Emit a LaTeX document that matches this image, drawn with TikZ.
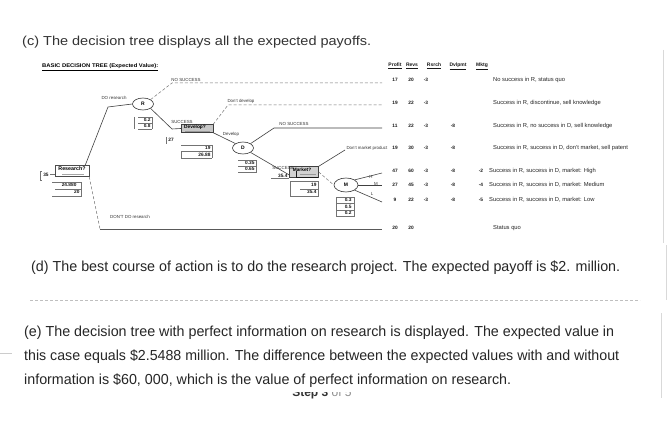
\documentclass[tikz,border=0pt]{standalone}
\usepackage{fontspec}
\setmainfont{Liberation Sans}
\usepackage{graphicx}
\usetikzlibrary{shapes.geometric}
\newcommand{\fitw}[2]{\resizebox{#1}{\height}{#2}}
\begin{document}
\begin{tikzpicture}[x=1pt,y=-1pt,
  txt/.style={anchor=west, inner sep=0pt, text=black!85},
  tl/.style={font=\fontsize{4.4}{5}\selectfont, inner sep=0.3pt, text=black!80},
  tv/.style={font=\fontsize{4.8}{5}\selectfont\bfseries, inner sep=0.3pt, text=black!90},
  th/.style={font=\fontsize{5}{6}\selectfont\bfseries, inner sep=0.3pt, text=black!90},
  tdesc/.style={font=\fontsize{5.8}{6}\selectfont, anchor=west, inner sep=0pt, text=black!85},
  chance/.style={ellipse, draw=black!80, line width=0.6pt, minimum width=21pt, minimum height=12pt, inner sep=0pt, font=\fontsize{5}{6}\selectfont\bfseries},
  decbox/.style={draw=black!75, fill=black!22, minimum width=32pt, minimum height=8pt, inner sep=0pt, font=\fontsize{4.8}{5}\selectfont\bfseries},
  br/.style={line width=0.6pt, draw=black!75},
  br2/.style={line width=0.5pt, draw=black!55, densely dashed},
  cell/.style={draw=black!55, line width=0.35pt},
  rule/.style={draw=black!15, line width=0.8pt}
]
\useasboundingbox (0,0) rectangle (670,433);
\fill[white] (0,0) rectangle (670,433);

% page texts
\node[txt, font=\fontsize{13}{15}\selectfont, text=black!80] (tc) at (22,42) {\fitw{349pt}{(c) The decision tree displays all the expected payoffs.}};
\node[txt, font=\fontsize{14.5}{16}\selectfont] (td) at (31,268) {\fitw{589pt}{(d) The best course of action is to do the research project. The expected payoff is \$2. million.}};
\draw[black!25, dash pattern=on 3pt off 2pt, line width=0.6pt] (30,300) -- (640,300);
\node[txt, font=\fontsize{14.5}{16}\selectfont] (te1) at (24,333) {\fitw{590pt}{(e) The decision tree with perfect information on research is displayed. The expected value in}};
\node[txt, font=\fontsize{14.5}{16}\selectfont] (te2) at (24,357) {\fitw{595pt}{this case equals \$2.5488 million. The difference between the expected values with and without}};
\node[txt, font=\fontsize{14.5}{16}\selectfont] (te3) at (24,381) {\fitw{487pt}{information is \$60, 000, which is the value of perfect information on research.}};
\begin{scope}
\clip (270,392) rectangle (380,402);
\node[anchor=base, inner sep=0, font=\fontsize{12}{14}\selectfont] (step) at (322,396.5) {\textbf{\color{black!80}Step 3} \color{black!45}of 5};
\end{scope}
\draw[rule] (663,50) -- (663,243);
\draw[rule] (666,245) -- (666,300);
\draw[rule] (661,313) -- (661,398);
\draw[black!20, line width=0.6pt] (0,353) -- (12,353);

% tree title
\node[anchor=west, inner sep=0, font=\fontsize{5.3}{6}\selectfont\bfseries] (title) at (42,67) {\fitw{116pt}{\underline{BASIC DECISION TREE (Expected Value):}}};

% nodes
\node[chance] (R) at (143,104) {R};
\node[chance] (D) at (243,148) {D};
\node[chance, minimum width=24pt, minimum height=14pt] (M) at (346,185) {M};
\node[draw=black!70, fill=white, minimum width=34pt, minimum height=11pt, inner sep=0] (res) at (72,171) {};
\node[font=\fontsize{5.3}{5}\selectfont\bfseries, inner sep=0] (restx) at (72,168.5) {Research?};
\draw[black!35, line width=0.4pt] (62,174.5) -- (84,174.5);
\node[decbox] (dev) at (197,128.5) {};
\node[font=\fontsize{4.8}{5}\selectfont\bfseries, inner sep=0] (devtx) at (195,127) {Develop?};
\draw[black!40, line width=0.4pt] (185,131) -- (210,131);
\node[draw=black!75, fill=black!18, minimum width=29pt, minimum height=11pt, inner sep=0] (mkt) at (304,172) {};
\node[font=\fontsize{4.8}{5}\selectfont\bfseries, inner sep=0] (mkttx) at (302,169.5) {Market?};
\draw[black!90, line width=0.8pt] (296,171.5) -- (296,177.5) -- (318,177.5);
\draw[black!40, line width=0.4pt] (300,174.5) -- (316,174.5);

% connectors
\coordinate (b1) at (108,107);
\draw[br] ([xshift=-4pt]res.north east) -- (b1) -- (R.west);
\coordinate (n1) at (172,83);
\coordinate (e1) at (382,83);
\draw[br2] (R.north east) -- (n1) -- (e1);
\coordinate (b2) at (172,129);
\draw[br] (R.south east) -- (b2) -- (dev.west);
\coordinate (b3) at (228,105);
\coordinate (e2) at (382,105);
\draw[br2] (dev.north east) -- (b3) -- (e2);
\draw[br] (dev.south east) -- (D.north west);
\coordinate (b4) at (274,128);
\coordinate (e3) at (382,128);
\draw[br] (D.north east) -- (b4) -- (e3);
\draw[br] (D.south east) -- ([yshift=-3pt]mkt.west);
\coordinate (b5) at (345,150);
\draw[br] (mkt.north east) -- (b5);
\draw[br2] (mkt.east) -- (M.west);
\coordinate (mh) at (382,173);
\coordinate (mm) at (382,185);
\coordinate (ml) at (382,202);
\draw[br] (M.north east) -- (mh);
\draw[br] (M.east) -- (mm);
\draw[br] (M.south east) -- (ml);
\coordinate (b6) at (100,229);
\coordinate (e4) at (382,229);
\draw[br2] (res.south east) -- (b6);
\draw[br, line width=0.8pt, draw=black!65] (b6) -- (e4);

% branch labels
\node[tl] (l1) at (114,98) {DO research};
\node[tl] (l2) at (186,80) {NO SUCCESS};
\node[tl] (l3) at (182,122) {SUCCESS};
\node[tl] (l4) at (241,101) {Don't develop};
\node[tl] (l5) at (231,134) {Develop};
\node[tl] (l6) at (294,124) {NO SUCCESS};
\node[tl] (l7) at (283,168) {SUCCESS};
\node[tl, anchor=west] (l8) at (346,148) {Don't market product};
\node[tl] (l9) at (130,217) {DON'T DO research};
\node[tl] (lh) at (371,177) {H};
\node[tl] (lm) at (376,183.5) {M};
\node[tl] (ll) at (372,194) {L};

% values
\node[tv] (v35) at (46,175) {35};
\draw[cell] (42,171) -- (40,171) -- (40,180) -- (42,180);
\draw[cell] (50,174) -- (55,174);
\node[tv, anchor=east] (v2488) at (77,185) {24.880};
\node[tv, anchor=east] (v20) at (80,192) {20};
\draw[cell] (52,182) -- (81,182) -- (81,196) -- (52,196);
\draw[cell] (55,189) -- (81,189);

\node[tv, anchor=east] (p1) at (151,120) {0.2};
\node[tv, anchor=east] (p2) at (151,126) {0.8};
\draw[cell, line width=0.7pt] (134,117) -- (134,129);
\draw[cell] (138,117) -- (152,117) -- (152,129);
\draw[cell] (138,123) -- (152,123);
\draw[cell] (138,129) -- (152,129);

\node[tv] (v27) at (171,140) {27};
\draw[cell, line width=0.7pt] (166,137) -- (166,144);

\node[tv, anchor=east] (v19a) at (211,148) {19};
\node[tv, anchor=east] (v2688) at (211,155) {26.88};
\draw[cell] (181,145) -- (212,145) -- (212,158);
\draw[cell] (181,151.5) -- (212,151.5);
\draw[cell, line width=0.7pt] (181,158) -- (212,158);
\draw[cell] (181,151.5) -- (181,158);

\node[tv, anchor=east] (p3) at (255,163) {0.35};
\node[tv, anchor=east] (p4) at (255,169) {0.65};
\draw[cell] (238,160) -- (256,160) -- (256,172) -- (238,172);
\draw[cell] (238,166) -- (256,166);

\node[tv, anchor=east] (v354a) at (288,175.5) {35.4};
\draw[cell] (271,178.5) -- (289,178.5);

\node[tv, anchor=east] (v19b) at (317,185) {19};
\node[tv, anchor=east] (v354b) at (317,192) {35.4};
\draw[cell] (290,181.5) -- (318,181.5) -- (318,196) -- (290,196) -- (290,181.5);
\draw[cell] (300,188.7) -- (318,188.7);

\node[tv, anchor=east] (p5) at (352,200) {0.3};
\node[tv, anchor=east] (p6) at (352,206.5) {0.5};
\node[tv, anchor=east] (p7) at (352,213) {0.2};
\draw[cell] (336,197) rectangle (354,216.5);
\draw[cell] (336,203.5) -- (354,203.5);
\draw[cell] (336,210) -- (354,210);

% table header
\node[th] (h1) at (395,66) {\underline{Profit}};
\node[th] (h2) at (412,66) {\underline{Revs}};
\node[th] (h3) at (434,66) {\underline{Rsrch}};
\node[th] (h4) at (458,66) {\underline{Dvlpmt}};
\node[th] (h5) at (482,66) {\underline{Mktg}};

% rows
\foreach \y/\a/\b/\c/\d/\e [count=\i] in {
  80/17/20/-3//,
  103/19/22/-3//,
  126/11/22/-3/-8/,
  148/19/30/-3/-8/,
  171/47/60/-3/-8/-2,
  185/27/45/-3/-8/-4,
  200/9/22/-3/-8/-5}{
  \node[tv] (ra\i) at (395,\y) {\a};
  \node[tv] (rb\i) at (411,\y) {\b};
  \node[tv] (rc\i) at (426,\y) {\c};
  \node[tv] (rd\i) at (453,\y) {\d};
  \node[tv] (re\i) at (481,\y) {\e};
}
\node[tdesc] (d1) at (493,80) {No success in R, status quo};
\node[tdesc] (d2) at (493,103) {Success in R, discontinue, sell knowledge};
\node[tdesc] (d3) at (493,126) {Success in R, no success in D, sell knowledge};
\node[tdesc] (d4) at (493,148) {Success in R, success in D, don't market, sell patent};
\node[tdesc] (d5) at (489,171) {Success in R, success in D, market: High};
\node[tdesc] (d6) at (489,185) {Success in R, success in D, market: Medium};
\node[tdesc] (d7) at (489,200) {Success in R, success in D, market: Low};
\node[tv] (rsq1) at (395,228) {20};
\node[tv] (rsq2) at (411,228) {20};
\node[tdesc] (dsq) at (493,228) {Status quo};
\end{tikzpicture}
\end{document}
